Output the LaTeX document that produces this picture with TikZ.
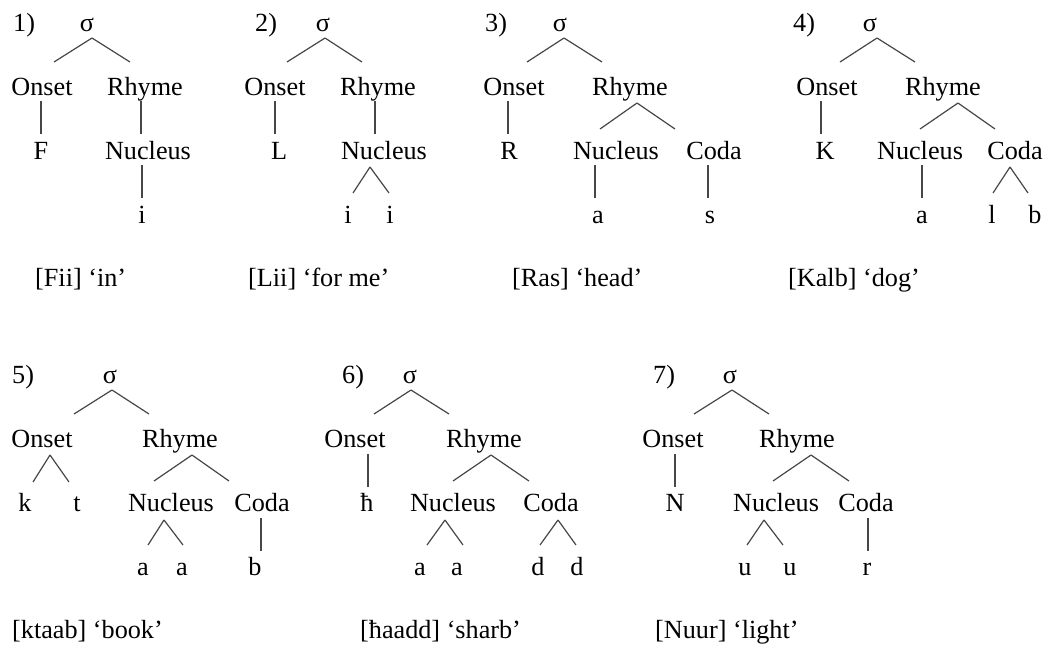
\documentclass[tikz,border=0pt]{standalone}
\usepackage{fontspec}
\setmainfont{Liberation Serif}
\usetikzlibrary{calc}
\newcommand\lk[6]{\draw[ln] ($(#1.base)+(#2,#3)$) -- ($(#4.base)+(#5,#6)$);}
\begin{document}
\begin{tikzpicture}[x=1pt,y=-1pt,
  every node/.style={inner sep=0pt, anchor=base, font=\fontsize{26.2pt}{30pt}\selectfont, text=black},
  lab/.style={anchor=base west},
  ln/.style={line width=1.2pt, draw=black!72, line cap=butt}]
\useasboundingbox[fill=white] (0,0) rectangle (1046,646);
% ---------- Tree 1 ----------
\node[lab] (t1l) at (13,31) {1)};
\node (t1s) at (87,31) {σ};
\node (t1o) at (42,95) {Onset};
\node (t1r) at (145,95) {Rhyme};
\node (t1f) at (41,159) {F};
\node (t1n) at (148,159) {Nucleus};
\node (t1i) at (142,223) {i};
\node[lab] (t1g) at (35,286) {[Fii] ‘in’};
\lk{t1s}{5}{7}{t1o}{12}{-33}
\lk{t1s}{5}{7}{t1r}{-15}{-33}
\lk{t1o}{-1}{6}{t1f}{0}{-25}
\lk{t1r}{-4}{6}{t1n}{-7}{-25}
\lk{t1n}{-6}{6}{t1i}{0}{-25}
% ---------- Tree 2 ----------
\node[lab] (t2l) at (255,31) {2)};
\node (t2s) at (323,31) {σ};
\node (t2o) at (275,95) {Onset};
\node (t2r) at (378,95) {Rhyme};
\node (t2f) at (279,159) {L};
\node (t2n) at (384,159) {Nucleus};
\node (t2i) at (348,223) {i};
\node (t2j) at (390,223) {i};
\node[lab] (t2g) at (248,286) {[Lii] ‘for me’};
\lk{t2s}{2}{7}{t2o}{12}{-33}
\lk{t2s}{2}{7}{t2r}{-16}{-33}
\lk{t2o}{0}{6}{t2f}{-4}{-25}
\lk{t2r}{-3}{6}{t2n}{-9}{-25}
\lk{t2n}{-14}{8}{t2i}{5}{-30}
\lk{t2n}{-14}{8}{t2j}{-1}{-30}
% ---------- Tree 3 ----------
\node[lab] (t3l) at (485,31) {3)};
\node (t3s) at (560,31) {σ};
\node (t3o) at (514,95) {Onset};
\node (t3r) at (630,95) {Rhyme};
\node (t3f) at (509,159) {R};
\node (t3n) at (616,159) {Nucleus};
\node (t3c) at (714,159) {Coda};
\node (t3a) at (598,223) {a};
\node (t3b) at (710,223) {s};
\node[lab] (t3g) at (512,286) {[Ras] ‘head’};
\lk{t3s}{4}{7}{t3o}{13}{-33}
\lk{t3s}{4}{7}{t3r}{-28}{-33}
\lk{t3o}{-6}{6}{t3f}{-1}{-25}
\lk{t3r}{7}{8}{t3n}{-16}{-30}
\lk{t3r}{7}{8}{t3c}{-39}{-30}
\lk{t3n}{-21}{6}{t3a}{-3}{-25}
\lk{t3c}{-6}{6}{t3b}{-2}{-25}
% ---------- Tree 4 ----------
\node[lab] (t4l) at (793,31) {4)};
\node (t4s) at (870,31) {σ};
\node (t4o) at (827,95) {Onset};
\node (t4r) at (943,95) {Rhyme};
\node (t4f) at (825,159) {K};
\node (t4n) at (920,159) {Nucleus};
\node (t4c) at (1015,159) {Coda};
\node (t4a) at (922,223) {a};
\node (t4b) at (992,223) {l};
\node (t4d) at (1035,223) {b};
\node[lab] (t4g) at (788,286) {[Kalb] ‘dog’};
\lk{t4s}{7}{7}{t4o}{13}{-33}
\lk{t4s}{7}{7}{t4r}{-28}{-33}
\lk{t4o}{-6}{6}{t4f}{-4}{-25}
\lk{t4r}{15}{8}{t4n}{0}{-30}
\lk{t4r}{15}{8}{t4c}{-20}{-30}
\lk{t4n}{2}{6}{t4a}{0}{-25}
\lk{t4c}{-5}{8}{t4b}{1}{-30}
\lk{t4c}{-5}{8}{t4d}{-7}{-30}
% ---------- Tree 5 ----------
\node[lab] (t5l) at (12,383) {5)};
\node (t5s) at (110,383) {σ};
\node (t5o) at (42,447) {Onset};
\node (t5r) at (180,447) {Rhyme};
\node (t5k) at (25,511) {k};
\node (t5t) at (77,511) {t};
\node (t5n) at (171,511) {Nucleus};
\node (t5c) at (262,511) {Coda};
\node (t5a) at (143,575) {a};
\node (t5b) at (182,575) {a};
\node (t5d) at (255,575) {b};
\node[lab] (t5g) at (12,638) {[ktaab] ‘book’};
\lk{t5s}{2}{7}{t5o}{32}{-33}
\lk{t5s}{2}{7}{t5r}{-31}{-33}
\lk{t5o}{8}{8}{t5k}{8}{-29}
\lk{t5o}{8}{8}{t5t}{-8}{-29}
\lk{t5r}{12}{8}{t5n}{-17}{-30}
\lk{t5r}{12}{8}{t5c}{-33}{-30}
\lk{t5n}{-7}{9}{t5a}{5}{-30}
\lk{t5n}{-7}{9}{t5b}{1}{-30}
\lk{t5c}{-1}{7}{t5d}{6}{-24}
% ---------- Tree 6 ----------
\node[lab] (t6l) at (342,383) {6)};
\node (t6s) at (410,383) {σ};
\node (t6o) at (355,447) {Onset};
\node (t6r) at (484,447) {Rhyme};
\node (t6h) at (367,511) {ħ};
\node (t6n) at (453,511) {Nucleus};
\node (t6c) at (551,511) {Coda};
\node (t6a) at (420,575) {a};
\node (t6b) at (457,575) {a};
\node (t6d) at (538,575) {d};
\node (t6e) at (577,575) {d};
\node[lab] (t6g) at (360,638) {[ħaadd] ‘sharb’};
\lk{t6s}{1}{7}{t6o}{19}{-33}
\lk{t6s}{1}{7}{t6r}{-35}{-33}
\lk{t6o}{13}{7}{t6h}{1}{-24}
\lk{t6r}{7}{8}{t6n}{0}{-30}
\lk{t6r}{7}{8}{t6c}{-22}{-30}
\lk{t6n}{-8}{9}{t6a}{7}{-30}
\lk{t6n}{-8}{9}{t6b}{6}{-30}
\lk{t6c}{7}{9}{t6d}{2}{-30}
\lk{t6c}{7}{9}{t6e}{-1}{-30}
% ---------- Tree 7 ----------
\node[lab] (t7l) at (653,383) {7)};
\node (t7s) at (730,383) {σ};
\node (t7o) at (673,447) {Onset};
\node (t7r) at (797,447) {Rhyme};
\node (t7f) at (675,511) {N};
\node (t7n) at (776,511) {Nucleus};
\node (t7c) at (866,511) {Coda};
\node (t7a) at (745,575) {u};
\node (t7b) at (790,575) {u};
\node (t7d) at (867,575) {r};
\node[lab] (t7g) at (655,638) {[Nuur] ‘light’};
\lk{t7s}{2}{7}{t7o}{21}{-33}
\lk{t7s}{2}{7}{t7r}{-28}{-33}
\lk{t7o}{2}{7}{t7f}{0}{-24}
\lk{t7r}{14}{8}{t7n}{-3}{-30}
\lk{t7r}{14}{8}{t7c}{-17}{-30}
\lk{t7n}{-12}{9}{t7a}{2}{-30}
\lk{t7n}{-12}{9}{t7b}{-7}{-30}
\lk{t7c}{2}{7}{t7d}{1}{-24}
\end{tikzpicture}
\end{document}
